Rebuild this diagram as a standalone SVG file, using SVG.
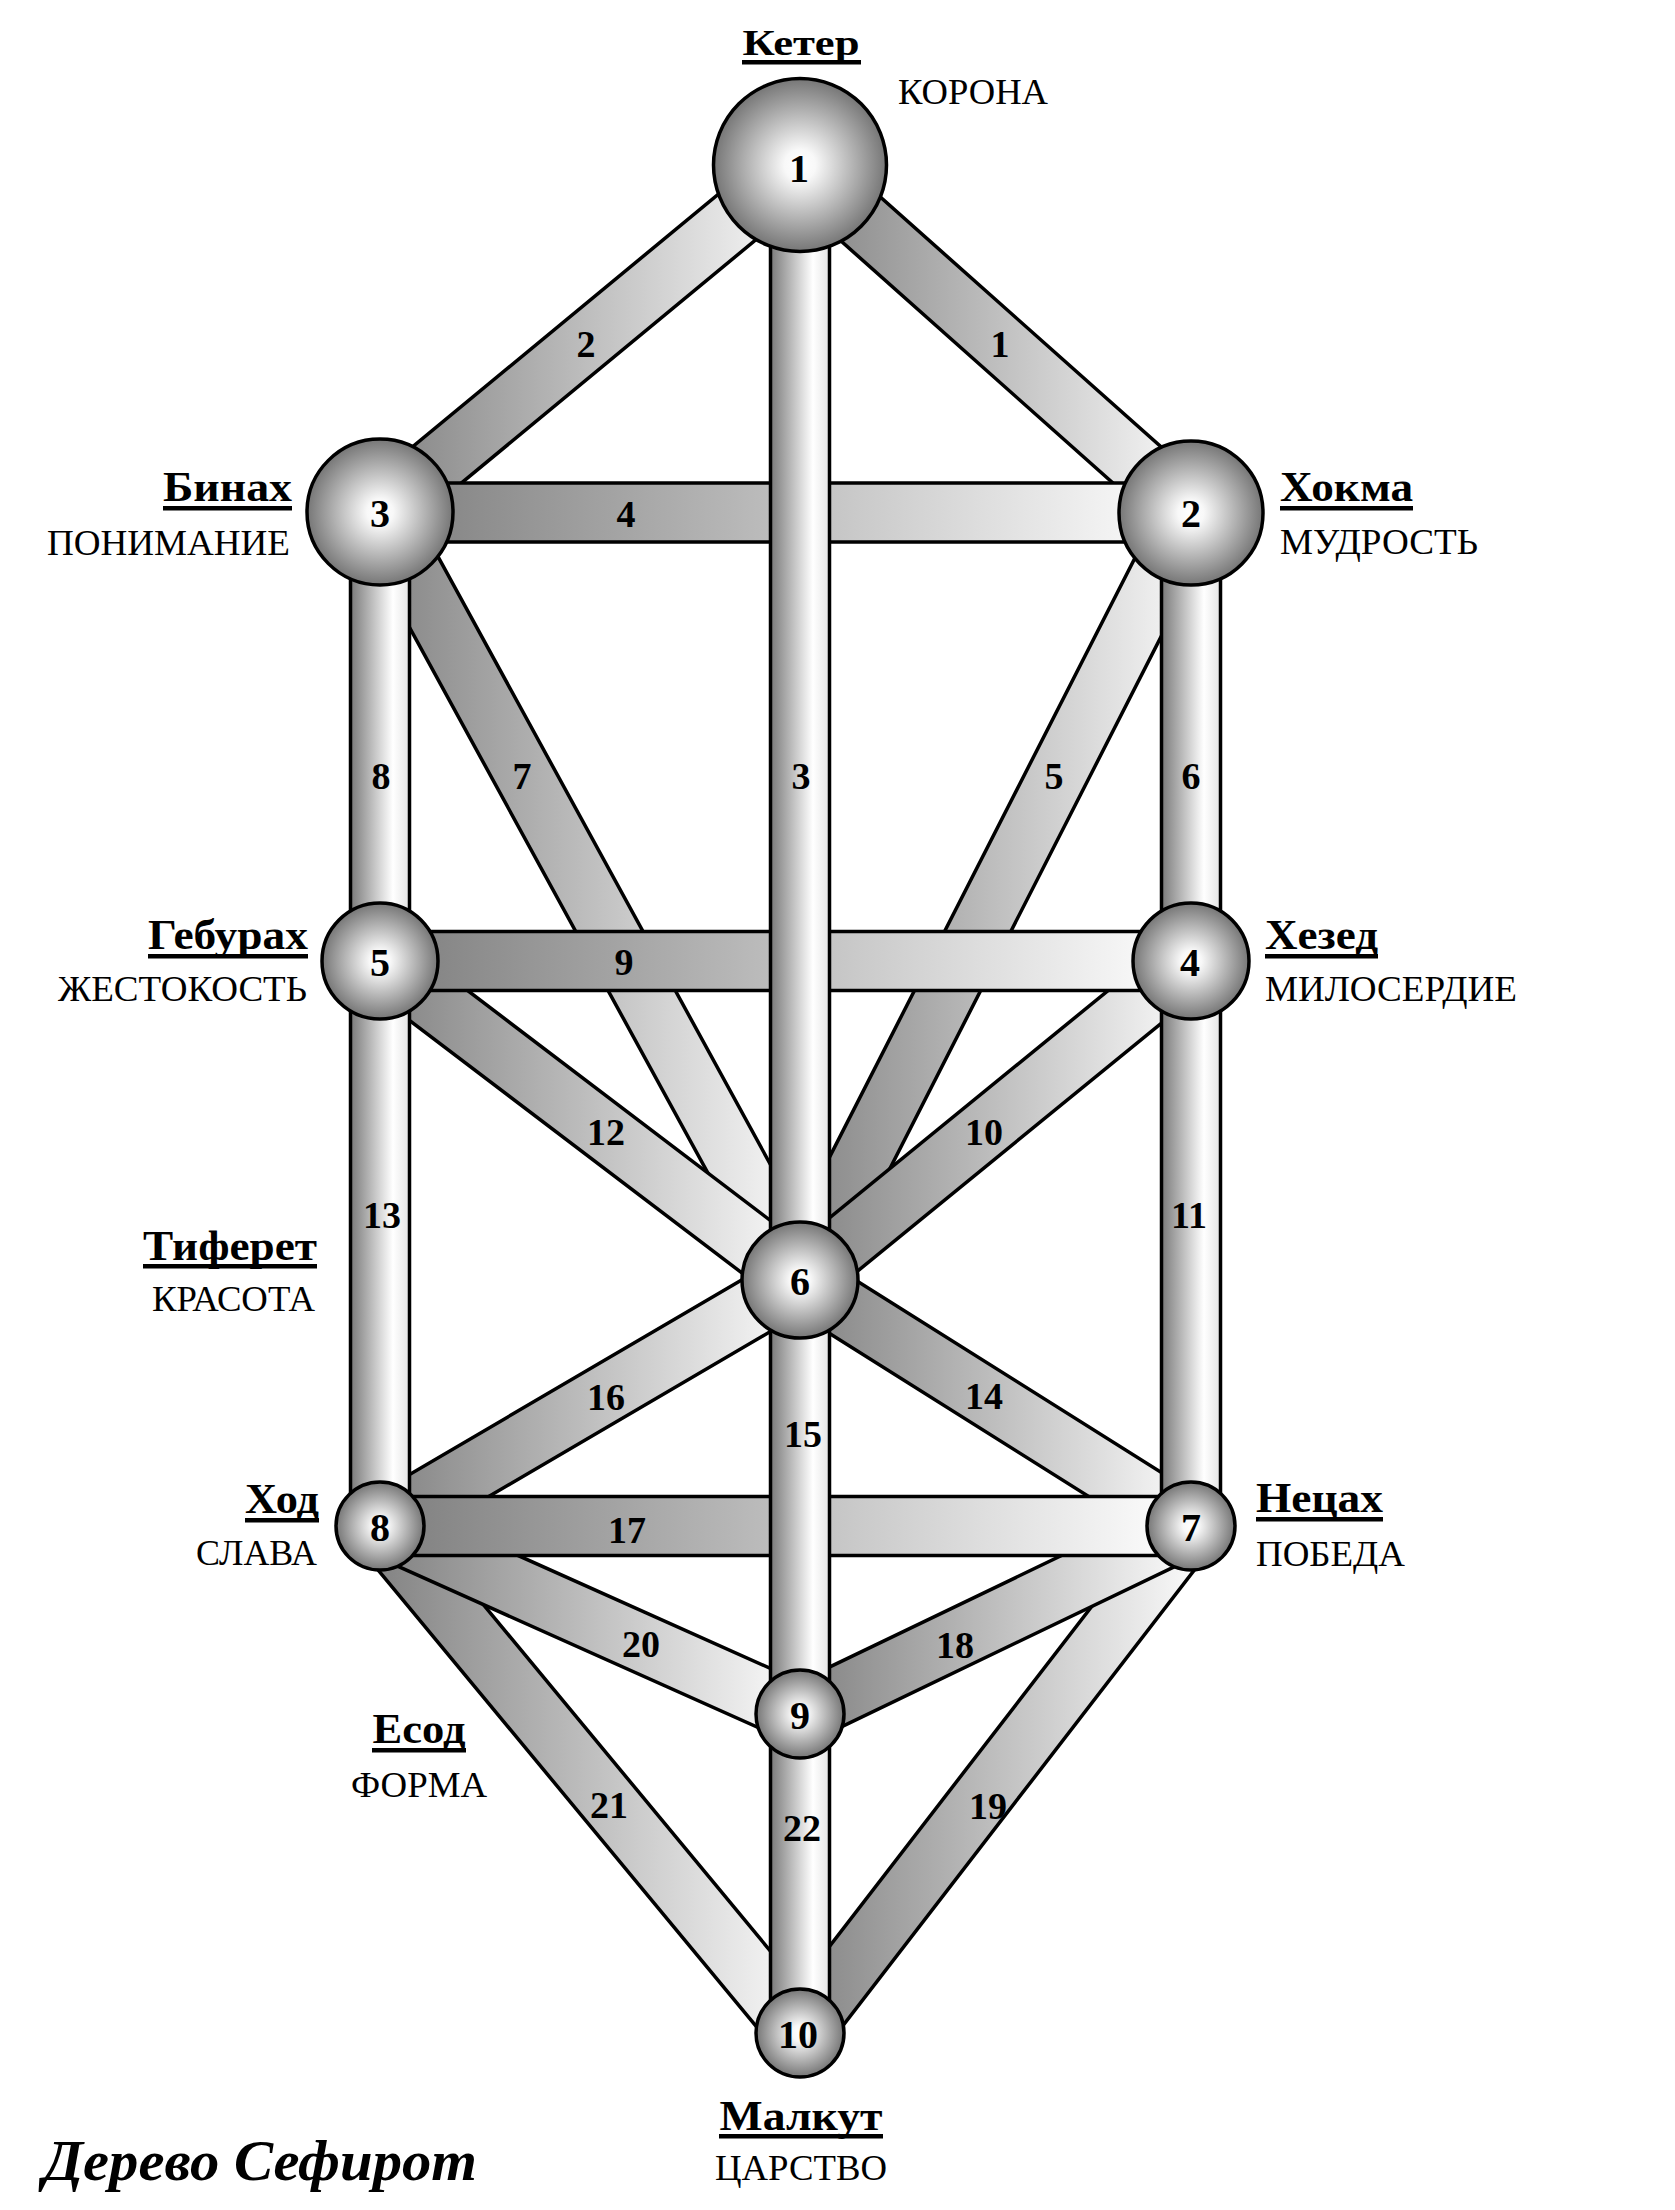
<svg xmlns="http://www.w3.org/2000/svg" width="1675" height="2210" viewBox="0 0 1675 2210">
<defs>
<radialGradient id="gN" cx="50%" cy="50%" r="50%">
<stop offset="0" stop-color="#ffffff"/>
<stop offset="0.18" stop-color="#f8f8f8"/>
<stop offset="1" stop-color="#767676"/>
</radialGradient>
<linearGradient id="gH" x1="0" y1="0" x2="1" y2="0">
<stop offset="0" stop-color="#7e7e7e"/>
<stop offset="1" stop-color="#ffffff"/>
</linearGradient>
<linearGradient id="gV" x1="0" y1="0" x2="1" y2="0">
<stop offset="0" stop-color="#7a7a7a"/>
<stop offset="0.72" stop-color="#ffffff"/>
<stop offset="1" stop-color="#e4e4e4"/>
</linearGradient>
<style>
.p{fill:url(#gH);stroke:#000;stroke-width:3.5;stroke-linejoin:miter}
.v{fill:url(#gV);stroke:#000;stroke-width:3.5}
.node{fill:url(#gN);stroke:#000;stroke-width:3.5}
.num{font-family:"Liberation Serif","Times New Roman",serif;font-weight:bold;font-size:38px;text-anchor:middle;fill:#000}
.cn{font-family:"Liberation Serif","Times New Roman",serif;font-weight:bold;font-size:40px;text-anchor:middle;fill:#000}
.name{font-family:"Liberation Serif","Times New Roman",serif;font-weight:bold;font-size:42px;fill:#000}
.sub{font-family:"Liberation Serif","Times New Roman",serif;font-size:35px;fill:#000}
.ul{fill:#000}
.title{font-family:"Liberation Serif","Times New Roman",serif;font-weight:bold;font-style:italic;font-size:58px;fill:#000}
</style>
</defs>
<rect x="0" y="0" width="1675" height="2210" fill="#ffffff"/>
<g id="connectors">
<polygon id="path-1" class="p" points="780.39,187.04 1171.39,535.04 1210.61,490.96 819.61,142.96"/>
<polygon id="path-2" class="p" points="781.21,142.26 361.21,489.26 398.79,534.74 818.79,187.74"/>
<polygon id="path-7" class="p" points="354.12,526.15 774.12,1294.15 825.88,1265.85 405.88,497.85"/>
<polygon id="path-5" class="p" points="1164.72,499.60 773.72,1266.60 826.28,1293.40 1217.28,526.40"/>
<polygon id="path-12" class="p" points="362.16,984.49 782.16,1303.49 817.84,1256.51 397.84,937.51"/>
<polygon id="path-10" class="p" points="818.65,1302.86 1209.65,983.86 1172.35,938.14 781.35,1257.14"/>
<rect id="path-9" class="p" x="380" y="931.5" width="811" height="59"/>
<rect id="path-4" class="p" x="380" y="483" width="811" height="59"/>
<polygon id="path-16" class="p" points="394.91,1551.46 814.91,1305.46 785.09,1254.54 365.09,1500.54"/>
<polygon id="path-14" class="p" points="784.29,1304.97 1175.29,1550.97 1206.71,1501.03 815.71,1255.03"/>
<polygon id="path-21" class="p" points="357.28,1544.82 777.28,2051.82 822.72,2014.18 402.72,1507.18"/>
<polygon id="path-19" class="p" points="823.36,2051.02 1214.36,1544.02 1167.64,1507.98 776.64,2014.98"/>
<polygon id="path-20" class="p" points="367.95,1552.92 787.95,1740.92 812.05,1687.08 392.05,1499.08"/>
<polygon id="path-18" class="p" points="812.78,1740.59 1203.78,1552.59 1178.22,1499.41 787.22,1687.41"/>
<rect id="path-17" class="p" x="380" y="1496.5" width="811" height="59"/>
<rect id="path-3" class="v" x="770.5" y="165" width="59" height="1115"/>
<rect id="path-15" class="v" x="770.5" y="1280" width="59" height="434"/>
<rect id="path-22" class="v" x="770.5" y="1714" width="59" height="319"/>
<rect id="path-8" class="v" x="350.5" y="512" width="59" height="449"/>
<rect id="path-13" class="v" x="350.5" y="961" width="59" height="565"/>
<rect id="path-6" class="v" x="1161.5" y="513" width="59" height="448"/>
<rect id="path-11" class="v" x="1161.5" y="961" width="59" height="565"/>
<g id="connector-labels">
<text class="num" x="1000" y="357">1</text>
<text class="num" x="586" y="357">2</text>
<text class="num" x="801" y="789">3</text>
<text class="num" x="626" y="527">4</text>
<text class="num" x="1054" y="789">5</text>
<text class="num" x="1191" y="789">6</text>
<text class="num" x="522" y="789">7</text>
<text class="num" x="381" y="789">8</text>
<text class="num" x="624" y="975">9</text>
<text class="num" x="984" y="1145">10</text>
<text class="num" x="1189" y="1228">11</text>
<text class="num" x="606" y="1145">12</text>
<text class="num" x="382" y="1228">13</text>
<text class="num" x="984" y="1409">14</text>
<text class="num" x="803" y="1447">15</text>
<text class="num" x="606" y="1410">16</text>
<text class="num" x="627" y="1543">17</text>
<text class="num" x="955" y="1658">18</text>
<text class="num" x="988" y="1819">19</text>
<text class="num" x="641" y="1657">20</text>
<text class="num" x="609" y="1818">21</text>
<text class="num" x="802" y="1841">22</text>
</g>
</g>
<g id="node-1">
<circle class="node" cx="800" cy="165" r="86.5"/>
<text class="cn" x="799" y="182">1</text>
<text class="name" x="801" y="55" text-anchor="middle" style="font-size:36px" textLength="117" lengthAdjust="spacingAndGlyphs">Кетер</text>
<rect class="ul" x="742" y="60" width="119" height="4.5"/>
<text class="sub" x="898" y="104" textLength="150" lengthAdjust="spacingAndGlyphs">КОРОНА</text>
</g>
<g id="node-2">
<circle class="node" cx="1191" cy="513" r="72"/>
<text class="cn" x="1191" y="527">2</text>
<text class="name" x="1280" y="501" textLength="133" lengthAdjust="spacingAndGlyphs">Хокма</text>
<rect class="ul" x="1280" y="506" width="133" height="4.5"/>
<text class="sub" x="1280" y="554" textLength="198" lengthAdjust="spacingAndGlyphs">МУДРОСТЬ</text>
</g>
<g id="node-3">
<circle class="node" cx="380" cy="512" r="73"/>
<text class="cn" x="380" y="527">3</text>
<text class="name" x="292" y="501" text-anchor="end" textLength="129" lengthAdjust="spacingAndGlyphs">Бинах</text>
<rect class="ul" x="163" y="506" width="129" height="4.5"/>
<text class="sub" x="290" y="555" text-anchor="end" textLength="243" lengthAdjust="spacingAndGlyphs">ПОНИМАНИЕ</text>
</g>
<g id="node-4">
<circle class="node" cx="1191" cy="961" r="58"/>
<text class="cn" x="1190" y="976">4</text>
<text class="name" x="1265" y="949" textLength="113" lengthAdjust="spacingAndGlyphs">Хезед</text>
<rect class="ul" x="1265" y="954" width="113" height="4.5"/>
<text class="sub" x="1265" y="1001" textLength="252" lengthAdjust="spacingAndGlyphs">МИЛОСЕРДИЕ</text>
</g>
<g id="node-5">
<circle class="node" cx="380" cy="961" r="58"/>
<text class="cn" x="380" y="976">5</text>
<text class="name" x="308" y="949" text-anchor="end" textLength="160" lengthAdjust="spacingAndGlyphs">Гебурах</text>
<rect class="ul" x="148" y="954" width="160" height="4.5"/>
<text class="sub" x="307" y="1001" text-anchor="end" textLength="249" lengthAdjust="spacingAndGlyphs">ЖЕСТОКОСТЬ</text>
</g>
<g id="node-6">
<circle class="node" cx="800" cy="1280" r="58"/>
<text class="cn" x="800" y="1295">6</text>
<text class="name" x="317" y="1260" text-anchor="end" textLength="174" lengthAdjust="spacingAndGlyphs">Тиферет</text>
<rect class="ul" x="143" y="1264" width="174" height="4.5"/>
<text class="sub" x="315" y="1311" text-anchor="end" textLength="163" lengthAdjust="spacingAndGlyphs">КРАСОТА</text>
</g>
<g id="node-7">
<circle class="node" cx="1191" cy="1526" r="44"/>
<text class="cn" x="1191" y="1541">7</text>
<text class="name" x="1256" y="1512" textLength="127" lengthAdjust="spacingAndGlyphs">Нецах</text>
<rect class="ul" x="1256" y="1517" width="127" height="4.5"/>
<text class="sub" x="1256" y="1566" textLength="149" lengthAdjust="spacingAndGlyphs">ПОБЕДА</text>
</g>
<g id="node-8">
<circle class="node" cx="380" cy="1526" r="44"/>
<text class="cn" x="380" y="1541">8</text>
<text class="name" x="319" y="1513" text-anchor="end" textLength="74" lengthAdjust="spacingAndGlyphs">Ход</text>
<rect class="ul" x="245" y="1518" width="74" height="4.5"/>
<text class="sub" x="317" y="1565" text-anchor="end" textLength="121" lengthAdjust="spacingAndGlyphs">СЛАВА</text>
</g>
<g id="node-9">
<circle class="node" cx="800" cy="1714" r="44"/>
<text class="cn" x="800" y="1729">9</text>
<text class="name" x="419" y="1743" text-anchor="middle" textLength="93" lengthAdjust="spacingAndGlyphs">Есод</text>
<rect class="ul" x="372" y="1748" width="94" height="4.5"/>
<text class="sub" x="419" y="1797" text-anchor="middle" textLength="136" lengthAdjust="spacingAndGlyphs">ФОРМА</text>
</g>
<g id="node-10">
<circle class="node" cx="800" cy="2033" r="44"/>
<text class="cn" x="798" y="2048">10</text>
<text class="name" x="801" y="2130" text-anchor="middle" textLength="163" lengthAdjust="spacingAndGlyphs">Малкут</text>
<rect class="ul" x="719" y="2134" width="164" height="4.5"/>
<text class="sub" x="801" y="2180" text-anchor="middle" textLength="172" lengthAdjust="spacingAndGlyphs">ЦАРСТВО</text>
</g>
<text id="title" class="title" x="43" y="2180" textLength="434" lengthAdjust="spacingAndGlyphs">Дерево Сефирот</text>
</svg>
